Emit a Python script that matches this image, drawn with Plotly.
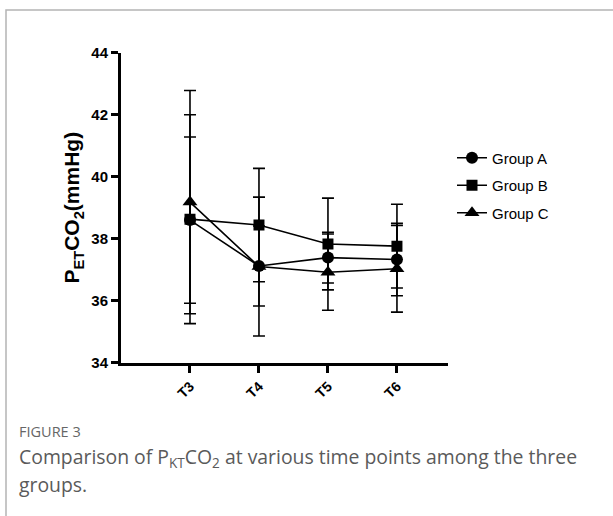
import plotly.graph_objects as go

# Time points and group means ± SD of end-tidal CO2 (mmHg)
time_points = ["T3", "T4", "T5", "T6"]
x_pos = [1, 2, 3, 4]
y_ticks = [34, 36, 38, 40, 42, 44]

group_a_mean = [38.60, 37.12, 37.39, 37.33]
group_a_sd = [2.68, 1.29, 0.82, 1.17]

group_b_mean = [38.63, 38.44, 37.83, 37.76]
group_b_sd = [3.37, 1.83, 1.48, 1.35]

group_c_mean = [39.18, 37.10, 36.92, 37.03]
group_c_sd = [3.60, 2.24, 1.23, 1.40]

W, H = 613, 516


def px_x(p):
    return p / W


def px_y(p):
    return 1 - p / H


fig = go.Figure()

series = [
    # name, mean, sd, symbol, size, legend rank (drawn C, A, B so B sits on top)
    ("Group C", group_c_mean, group_c_sd, "triangle-up", 13, 3),
    ("Group A", group_a_mean, group_a_sd, "circle", 12, 1),
    ("Group B", group_b_mean, group_b_sd, "square", 11, 2),
]

for name, mean, sd, symbol, size, rank in series:
    fig.add_trace(go.Scatter(
        x=x_pos,
        y=mean,
        name=name,
        legendgroup=name,
        mode="lines+markers",
        line=dict(color="black", width=1.6),
        marker=dict(symbol=symbol, size=size, color="black"),
        error_y=dict(type="data", array=sd, symmetric=True,
                     color="black", thickness=1.6, width=6),
        legendrank=rank,
    ))

sans = "Liberation Sans, Arial, sans-serif"

fig.update_layout(
    width=W,
    height=H,
    margin=dict(l=0, r=0, t=0, b=0, pad=0),
    paper_bgcolor="white",
    plot_bgcolor="white",
    showlegend=True,
    legend=dict(
        x=px_x(452), y=px_y(141.5), xanchor="left", yanchor="top",
        font=dict(family=sans, size=15, color="black"),
        itemwidth=30, tracegroupgap=5, bgcolor="rgba(0,0,0,0)",
    ),
    xaxis=dict(
        domain=[px_x(121), px_x(448)],
        range=[0, 4.74],
        automargin=False,
        tickvals=x_pos,
        ticktext=[f"<b>{t}</b>" for t in time_points],
        tickangle=-45,
        ticks="outside", ticklen=7, tickwidth=3, tickcolor="black",
        showline=True, linecolor="black", linewidth=3,
        showgrid=False, zeroline=False,
        tickfont=dict(family=sans, size=14, color="black"),
    ),
    yaxis=dict(
        domain=[px_y(362.7), px_y(52.7)],
        range=[34, 44],
        automargin=False,
        tickvals=y_ticks,
        ticktext=[f"<b>{v}</b>" for v in y_ticks],
        ticks="outside", ticklen=7, tickwidth=3, tickcolor="black",
        showline=True, linecolor="black", linewidth=3,
        showgrid=False, zeroline=False,
        tickfont=dict(family=sans, size=15, color="black"),
        title=dict(
            text="<b>P<sub>ET</sub>CO<sub>2</sub>(mmHg)</b>",
            font=dict(family=sans, size=21, color="black"),
            standoff=6,
        ),
    ),
)

# Panel frame
fig.add_shape(type="rect", xref="paper", yref="paper",
              x0=px_x(6), x1=1.2, y0=-0.2, y1=px_y(10),
              line=dict(color="#b4b4b4", width=1.5), layer="below")

caption_font = "Open Sans, Noto Sans, sans-serif"
fig.add_annotation(
    xref="paper", yref="paper", x=px_x(17), y=px_y(431),
    xanchor="left", yanchor="middle", showarrow=False,
    text="FIGURE 3",
    font=dict(family=caption_font, size=14.5, color="#666666"),
)
caption_lines = [
    "Comparison of P<sub>KT</sub>CO<sub>2</sub> at various time points among the three",
    "groups.",
]
for i, line in enumerate(caption_lines):
    fig.add_annotation(
        xref="paper", yref="paper", x=px_x(17), y=px_y(457 + 27 * i),
        xanchor="left", yanchor="middle", showarrow=False, align="left",
        text=line,
        font=dict(family=caption_font, size=19.4, color="#5a5a5a"),
    )

fig.write_html("out.html")
